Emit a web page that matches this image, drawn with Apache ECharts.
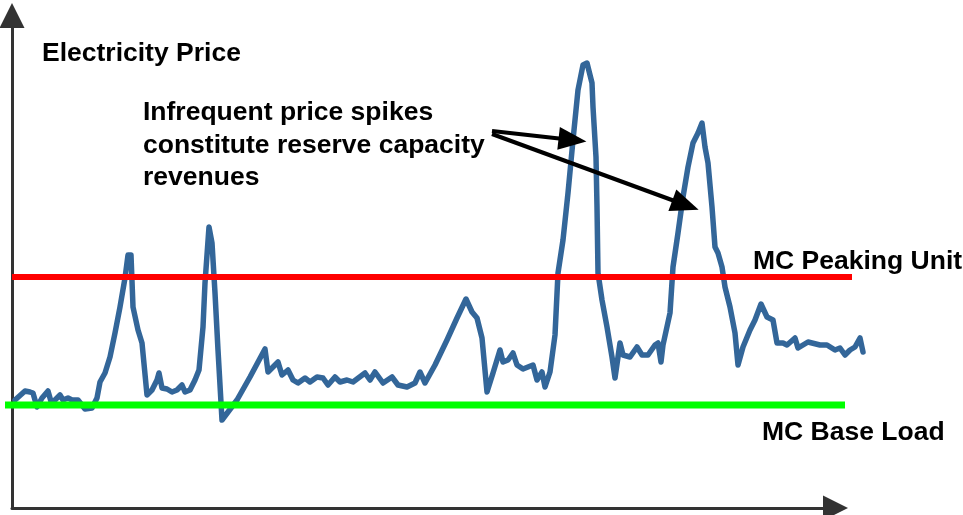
<!DOCTYPE html>
<html>
<head>
<meta charset="utf-8">
<script src="https://cdn.jsdelivr.net/npm/echarts@6/dist/echarts.min.js"></script>
<style>
html,body{margin:0;padding:0;background:#fff;}
#chart{width:963px;height:515px;}
</style>
</head>
<body>
<div id="chart"></div>
<script>
// time (hours) and electricity price (arbitrary price units)
const time = [0.6,2.6,3.6,4.2,5.0,6.0,7.2,8.0,8.6,9.6,10.2,11.2,12.0,13.2,13.6,14.6,16.0,17.0,17.6,18.6,19.6,20.6,21.6,22.6,23.2,23.8,24.2,25.2,26.0,27.0,28.0,29.0,29.4,30.0,31.0,32.0,33.0,34.0,34.6,35.6,36.6,37.4,38.2,38.6,39.4,40.0,40.6,41.2,42.0,43.2,45.0,47.6,50.6,51.2,53.2,54.0,55.2,56.2,57.2,58.6,59.6,61.0,62.2,63.2,64.6,65.6,67.0,68.2,70.6,71.6,72.6,74.2,76.0,77.2,79.0,80.6,81.6,82.6,84.6,87.0,89.0,90.8,92.0,93.0,94.0,95.0,96.2,97.6,98.2,99.2,100.2,101.0,102.2,104.2,105.0,106.0,106.6,107.6,108.6,109.2,110.2,111.2,112.2,113.2,114.2,115.0,116.0,116.2,116.8,117.0,117.2,118.0,119.0,120.0,120.6,121.6,122.2,123.6,125.0,126.0,127.2,128.6,129.2,129.8,130.2,131.6,132.2,133.2,134.2,135.2,136.2,137.2,138.0,138.6,139.2,140.0,140.6,141.2,142.0,142.6,143.6,144.6,145.2,146.2,147.6,148.6,149.8,151.0,152.2,153.0,154.2,155.0,156.6,157.2,159.2,161.6,163.0,164.6,165.6,166.6,167.6,168.6,169.6,170.2];
const price = [21.6,23.4,23.2,23.0,20.2,22.0,23.4,20.6,21.6,22.6,21.6,22.0,21.6,21.6,21.2,19.8,20.0,22.0,25.2,27.0,30.2,35.0,40.2,46.0,50.6,50.6,40.2,35.6,33.0,22.6,23.6,25.6,27.0,24.0,23.8,23.2,23.6,24.6,23.2,23.6,25.6,27.6,36.2,45.0,56.2,53.0,43.0,31.6,17.6,19.2,21.6,26.2,31.8,27.2,29.2,26.6,27.6,25.6,25.0,26.0,25.2,26.2,26.0,24.6,26.2,25.2,25.6,25.2,27.0,25.6,27.2,25.0,26.2,24.6,24.2,25.0,27.2,25.0,28.6,33.6,38.0,41.8,39.2,38.0,34.0,23.2,27.0,31.6,29.2,29.6,31.0,28.6,27.8,28.6,25.6,27.2,24.2,27.2,34.6,47.0,53.6,63.0,73.6,83.6,88.6,89.0,85.0,80.2,70.2,60.2,47.0,41.6,36.2,30.2,26.0,33.0,30.6,30.2,32.2,30.6,30.6,32.6,33.0,29.2,32.6,39.0,48.2,55.0,62.2,68.2,73.0,75.0,77.0,72.2,69.0,60.2,52.2,51.0,48.2,44.2,40.2,35.0,28.6,32.2,35.6,37.6,40.8,38.2,37.6,33.0,33.0,32.6,34.0,32.0,33.2,32.6,32.6,31.6,32.0,30.6,31.6,32.2,34.0,31.2];

// marginal cost levels and their extents (hours)
const mcPeakLevel = 46.2;
const mcPeakSpan = [0, 168];
const mcBaseLevel = 20.6;
const mcBaseSpan = [-1.4, 166.6];

// annotation arrows [fromTime, fromPrice, toTime, toPrice]
const arrow1 = [96, 75.4, 112.1, 73.6];
const arrow2 = [96, 74.8, 134.7, 60.6];

// texts
const yTitle = 'Electricity Price';
const noteLines = ['Infrequent price spikes', 'constitute reserve capacity', 'revenues'];
const peakLabel = 'MC Peaking Unit';
const baseLabel = 'MC Base Load';

const FONT = 'bold 26.5px "Liberation Sans", Arial, sans-serif';
const axisStyle = {
  show: true,
  symbol: ['none', 'triangle'],
  symbolSize: [25, 25],
  lineStyle: { color: '#333333', width: 3 }
};
const hidden = { show: false };

const chart = echarts.init(document.getElementById('chart'), null, { renderer: 'canvas' });

function txt(text, x, y) {
  return {
    type: 'text', x: x, y: y, silent: true, z: 100,
    style: { text: text, font: FONT, fill: '#000', textVerticalAlign: 'middle', verticalAlign: 'middle', align: 'left' }
  };
}

chart.setOption({
  animation: false,
  backgroundColor: '#ffffff',
  grid: [
    // data grid (wider, so marks can run past the visible axis end)
    { left: 2, right: 93, top: 15.5, bottom: 7, containLabel: false },
    // visible axes grid
    { left: 12, right: 127.5, top: 15.5, bottom: 7, containLabel: false }
  ],
  xAxis: [
    { gridIndex: 0, type: 'value', min: -2, max: 171.6, show: false },
    { gridIndex: 1, type: 'value', min: 0, max: 164.7,
      axisLine: axisStyle, axisTick: hidden, axisLabel: hidden, splitLine: hidden }
  ],
  yAxis: [
    { gridIndex: 0, type: 'value', min: 0, max: 98.5, show: false },
    { gridIndex: 1, type: 'value', min: 0, max: 98.5,
      axisLine: axisStyle, axisTick: hidden, axisLabel: hidden, splitLine: hidden }
  ],
  series: [
    {
      type: 'line', xAxisIndex: 0, yAxisIndex: 0, showSymbol: false, symbol: 'none', z: 2,
      data: time.map((t, i) => [t, price[i]]),
      lineStyle: { color: '#336699', width: 5.5, cap: 'round', join: 'round' }
    },
    {
      type: 'line', xAxisIndex: 0, yAxisIndex: 0, showSymbol: false, symbol: 'none', z: 3,
      data: mcPeakSpan.map(t => [t, mcPeakLevel]),
      lineStyle: { color: '#ff0000', width: 6, cap: 'butt' }
    },
    {
      type: 'line', xAxisIndex: 0, yAxisIndex: 0, showSymbol: false, symbol: 'none', z: 3,
      data: mcBaseSpan.map(t => [t, mcBaseLevel]),
      lineStyle: { color: '#00ff00', width: 7, cap: 'butt' }
    },
    {
      type: 'line', xAxisIndex: 0, yAxisIndex: 0, data: [], z: 4,
      markLine: {
        silent: true, animation: false,
        symbol: ['none', 'triangle'], symbolSize: [23, 28],
        label: { show: false },
        lineStyle: { color: '#000000', width: 4, type: 'solid' },
        data: [arrow1, arrow2].map(a => [{ coord: [a[0], a[1]] }, { coord: [a[2], a[3]] }])
      }
    }
  ],
  graphic: [
    txt(yTitle, 42, 54),
    txt(noteLines[0], 143, 113),
    txt(noteLines[1], 143, 145.5),
    txt(noteLines[2], 143, 178),
    txt(peakLabel, 753, 261.5),
    txt(baseLabel, 762, 433)
  ]
});
</script>
</body>
</html>
